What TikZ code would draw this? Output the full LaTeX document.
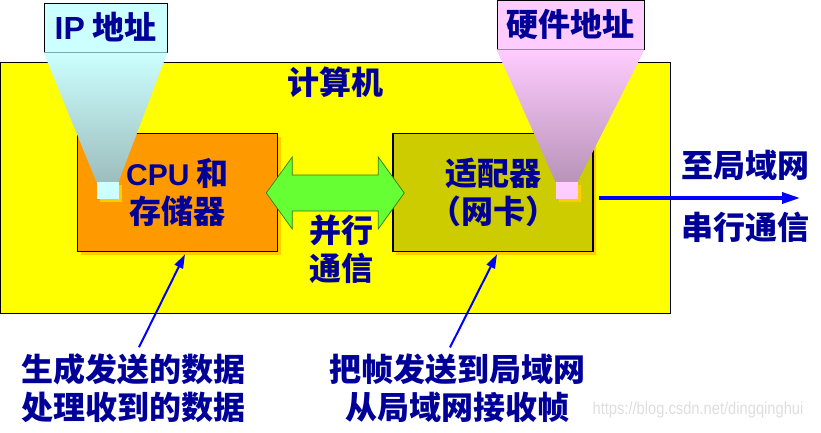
\documentclass[tikz,border=0pt]{standalone}
\usepackage{fontspec}
\setmainfont{Liberation Sans}
\newfontfamily\cjk{Noto Sans CJK SC}
\usepackage{tikz}
\usetikzlibrary{arrows.meta,shadows,calc,positioning}
\definecolor{compyellow}{HTML}{FFFF00}
\definecolor{cpuorange}{HTML}{FF9900}
\definecolor{nicolive}{HTML}{CCCC00}
\definecolor{shadowgold}{HTML}{FFCC00}
\definecolor{ipcyan}{HTML}{CCFFFF}
\definecolor{ipcone}{HTML}{9DBDBD}
\definecolor{macpink}{HTML}{FFCCFF}
\definecolor{maccone}{HTML}{B893B8}
\definecolor{busgreen}{HTML}{66FF33}
\definecolor{busedge}{HTML}{2E7D1E}
\definecolor{textnavy}{HTML}{000099}
\definecolor{pointblue}{HTML}{0000FF}
\tikzset{
  caption/.style={text=textnavy,font=\cjk\bfseries\fontsize{32}{38}\selectfont,
    align=center,inner sep=0pt},
  box/.style={rectangle,draw=black,line width=1.5pt,minimum width=200pt,
    minimum height=118pt,inner sep=0pt,
    drop shadow={fill=shadowgold,opacity=1,shadow xshift=3pt,shadow yshift=-3pt}},
  tag/.style={rectangle,draw=black,line width=0.9pt,minimum height=49pt,inner sep=0pt},
  port/.style={rectangle,minimum width=22pt,minimum height=17pt,inner sep=0pt,
    drop shadow={fill=shadowgold,opacity=1,shadow xshift=3pt,shadow yshift=-3pt}},
  pointer/.style={draw=pointblue,line width=2pt,-{Triangle[length=14pt,width=9pt]}},
  wire/.style={draw=pointblue,line width=3.3pt,-{Triangle[length=18pt,width=11pt]}}
}
\begin{document}
\begin{tikzpicture}[x=1pt,y=-1pt]
  \useasboundingbox (0,0) rectangle (821,433);
  \node[rectangle,draw=black,line width=0.9pt,fill=compyellow,minimum width=670pt,
    minimum height=251pt,inner sep=0pt] (computer) at (335,187.5) {};
  \node[caption] (comptitle) at (335,82) {计算机};
  \node[box,caption,fill=cpuorange] (cpu) at (177.5,192.5)
    {{\rmfamily\fontsize{30}{38}\selectfont CPU} 和\\存储器};
  \node[box,caption,fill=nicolive] (nic) at (493,192.5) {适配器\\（网卡）};
  \coordinate (bus) at ($(cpu.east)!0.5!(nic.west)$);
  \filldraw[fill=busgreen,draw=busedge,line width=0.7pt]
    ($(bus)+(-69,0.5)$) -- ++(26,-36) -- ++(0,18) -- ++(86,0) -- ++(0,-18)
    -- ++(26,36) -- ++(-26,36) -- ++(0,-18) -- ++(-86,0) -- ++(0,18) -- cycle;
  \node[caption] (parallel) at (341,249) {并行\\通信};

  \node[tag,caption,fill=ipcyan,minimum width=123pt] (ipaddr) at (105.5,27.5)
    {{\rmfamily IP} 地址};
  \node[tag,caption,fill=macpink,minimum width=147pt] (macaddr) at (570.5,24.5) {硬件地址};
  \coordinate (ipfoot) at (107.5,182);
  \coordinate (macfoot) at (566.5,182);
  \shade[top color=ipcyan,bottom color=ipcone]
    (ipaddr.south west) -- (ipaddr.south east) -- ($(ipfoot)+(11,0)$)
    -- ($(ipfoot)+(-11,0)$) -- cycle;
  \shade[top color=macpink,bottom color=maccone]
    (macaddr.south west) -- (macaddr.south east) -- ($(macfoot)+(11,0)$)
    -- ($(macfoot)+(-11,0)$) -- cycle;
  \node[port,fill=ipcyan,anchor=north] (ipport) at (ipfoot) {};
  \node[port,fill=macpink,anchor=north] (macport) at (macfoot) {};

  \coordinate (lan) at (800,198);
  \draw[wire] ($(nic.east)+(5,5.5)$) -- (lan);
  \node[caption] (tolan) at (745,165) {至局域网};
  \node[caption] (serial) at (745,227) {串行通信};

  \node[caption] (hostjob) at (133,388) {生成发送的数据\\处理收到的数据};
  \node[caption] (nicjob) at (457,388) {把帧发送到局域网\\从局域网接收帧};
  \draw[pointer] ([xshift=6pt,yshift=6pt]hostjob.north) -- ([xshift=7.5pt,yshift=-2pt]cpu.south);
  \draw[pointer] ([xshift=-7pt,yshift=6pt]nicjob.north) -- ([xshift=4pt,yshift=-2pt]nic.south);

  \node[text=black!13,font=\fontsize{17.5}{17.5}\selectfont] (mark) at (698,410)
    {\scalebox{0.84}[1]{https://blog.csdn.net/dingqinghui}};
\end{tikzpicture}
\end{document}
